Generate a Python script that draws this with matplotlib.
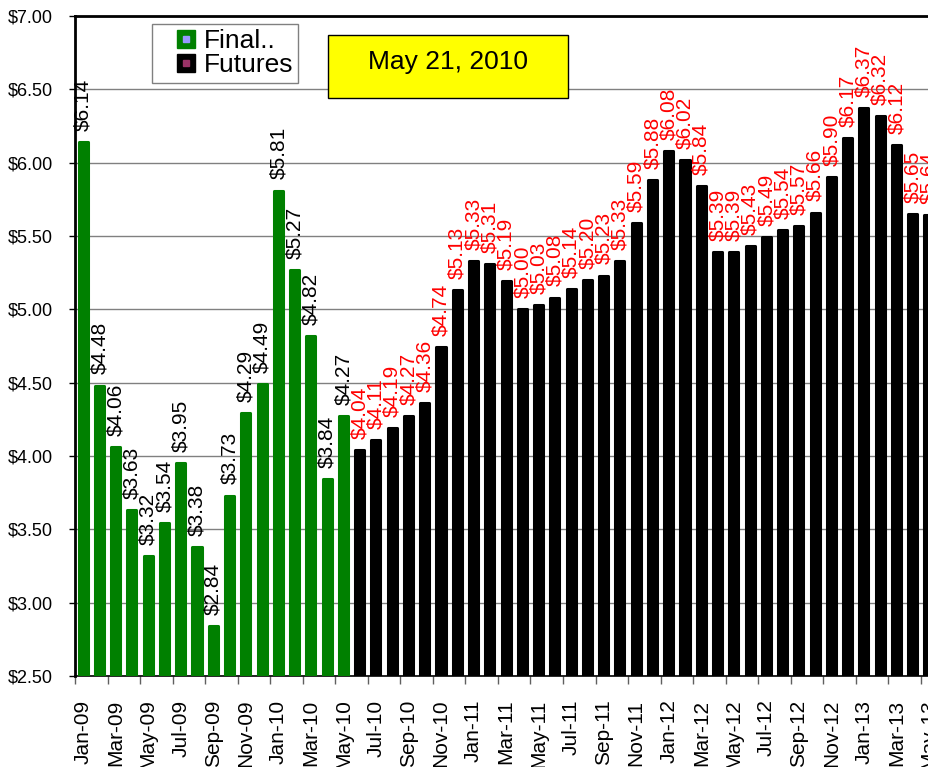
import matplotlib
matplotlib.use('Agg')
import matplotlib.pyplot as plt
from matplotlib.lines import Line2D
from matplotlib.legend_handler import HandlerTuple
from matplotlib.patches import Rectangle
import numpy as np

plt.rcParams['font.family'] = ['Liberation Sans', 'DejaVu Sans']

months = ['Jan-09', 'Feb-09', 'Mar-09', 'Apr-09', 'May-09', 'Jun-09', 'Jul-09', 'Aug-09', 'Sep-09',
          'Oct-09', 'Nov-09', 'Dec-09', 'Jan-10', 'Feb-10', 'Mar-10', 'Apr-10', 'May-10',
          'Jun-10', 'Jul-10', 'Aug-10', 'Sep-10', 'Oct-10', 'Nov-10', 'Dec-10',
          'Jan-11', 'Feb-11', 'Mar-11', 'Apr-11', 'May-11', 'Jun-11', 'Jul-11', 'Aug-11',
          'Sep-11', 'Oct-11', 'Nov-11', 'Dec-11',
          'Jan-12', 'Feb-12', 'Mar-12', 'Apr-12', 'May-12', 'Jun-12', 'Jul-12', 'Aug-12',
          'Sep-12', 'Oct-12', 'Nov-12', 'Dec-12',
          'Jan-13', 'Feb-13', 'Mar-13', 'Apr-13', 'May-13']

final_vals = [6.14, 4.48, 4.06, 3.63, 3.32, 3.54, 3.95, 3.38, 2.84, 3.73, 4.29, 4.49,
              5.81, 5.27, 4.82, 3.84, 4.27]
futures_vals = [4.04, 4.11, 4.19, 4.27, 4.36, 4.74, 5.13, 5.33, 5.31, 5.19,
                5.00, 5.03, 5.08, 5.14, 5.20, 5.23, 5.33, 5.59, 5.88, 6.08,
                6.02, 5.84, 5.39, 5.39, 5.43, 5.49, 5.54, 5.57, 5.66, 5.90,
                6.17, 6.37, 6.32, 6.12, 5.65, 5.64]
date_text = 'May 21, 2010'

green = '#008000'
x_final = np.arange(len(final_vals))
x_fut = np.arange(len(final_vals), len(final_vals) + len(futures_vals))

fig = plt.figure(figsize=(9.29, 7.67), dpi=100)
ax = fig.add_axes([75 / 929, 91 / 767, 1 - 75 / 929, 660 / 767])

ax.bar(x_final, final_vals, width=0.56, color=green, edgecolor=green, linewidth=2.2,
       joinstyle='round', zorder=3)
ax.bar(x_fut, futures_vals, width=0.56, color='black', edgecolor='black', linewidth=2.2,
       joinstyle='round', zorder=3)

# data labels
for x, v in zip(x_final, final_vals):
    ax.annotate('$%.2f' % v, (x, v), xytext=(0, 8), textcoords='offset points',
                rotation=90, ha='center', va='bottom', fontsize=15, color='black',
                annotation_clip=False, zorder=4)
for x, v in zip(x_fut, futures_vals):
    ax.annotate('$%.2f' % v, (x, v), xytext=(0, 8), textcoords='offset points',
                rotation=90, ha='center', va='bottom', fontsize=15, color='red',
                annotation_clip=False, zorder=4)

ax.set_ylim(2.5, 7.0)
ax.set_xlim(-0.45, 51.95)
yt = np.arange(2.5, 7.01, 0.5)
ax.set_yticks(yt)
ax.set_yticklabels(['$%.2f' % t for t in yt], fontsize=13)
ax.yaxis.grid(True, color='#808080', linewidth=1.0, zorder=0)
ax.set_axisbelow(True)
ax.tick_params(axis='y', direction='out', length=4, width=1, pad=12, colors='black')

ax.set_xticks(np.arange(0, len(months), 2))
ax.set_xticklabels(months[::2], rotation=90, fontsize=15)
ax.set_xticks(np.arange(-0.5, len(months), 2), minor=True)
ax.tick_params(axis='x', which='major', length=0, pad=17)
ax.tick_params(axis='x', which='minor', direction='out', length=6, width=1, color='#606060')

ax.spines['left'].set_linewidth(2)
ax.spines['bottom'].set_linewidth(1.2)
ax.spines['top'].set_linewidth(2)
ax.spines['right'].set_visible(False)

# legend: coloured square with a small inner square, as in the original
h1 = (Line2D([], [], marker='s', linestyle='none', markersize=13, color=green),
      Line2D([], [], marker='s', linestyle='none', markersize=4.5, color='#9999ff'))
h2 = (Line2D([], [], marker='s', linestyle='none', markersize=13, color='black'),
      Line2D([], [], marker='s', linestyle='none', markersize=4.5, color='#993366'))
leg = fig.legend([h1, h2], ['Final..', 'Futures'], loc='upper left',
                 bbox_to_anchor=(152 / 929, 1 - 24 / 767), fontsize=19,
                 handler_map={tuple: HandlerTuple(ndivide=1, pad=0)},
                 frameon=True, fancybox=False, edgecolor='#808080', framealpha=1,
                 handlelength=2.2, handletextpad=-0.45, labelspacing=0.0,
                 borderpad=0.2, borderaxespad=0)
leg.get_frame().set_linewidth(1)
leg.set_zorder(10)

# date box
fig.patches.append(Rectangle((328 / 929, 1 - 98 / 767), 240 / 929, 63 / 767,
                             transform=fig.transFigure, facecolor='yellow',
                             edgecolor='black', linewidth=1, zorder=10))
fig.text(448 / 929, 1 - 62 / 767, date_text, fontsize=19, ha='center', va='center', zorder=11)

fig.savefig('out.png', dpi=100)
